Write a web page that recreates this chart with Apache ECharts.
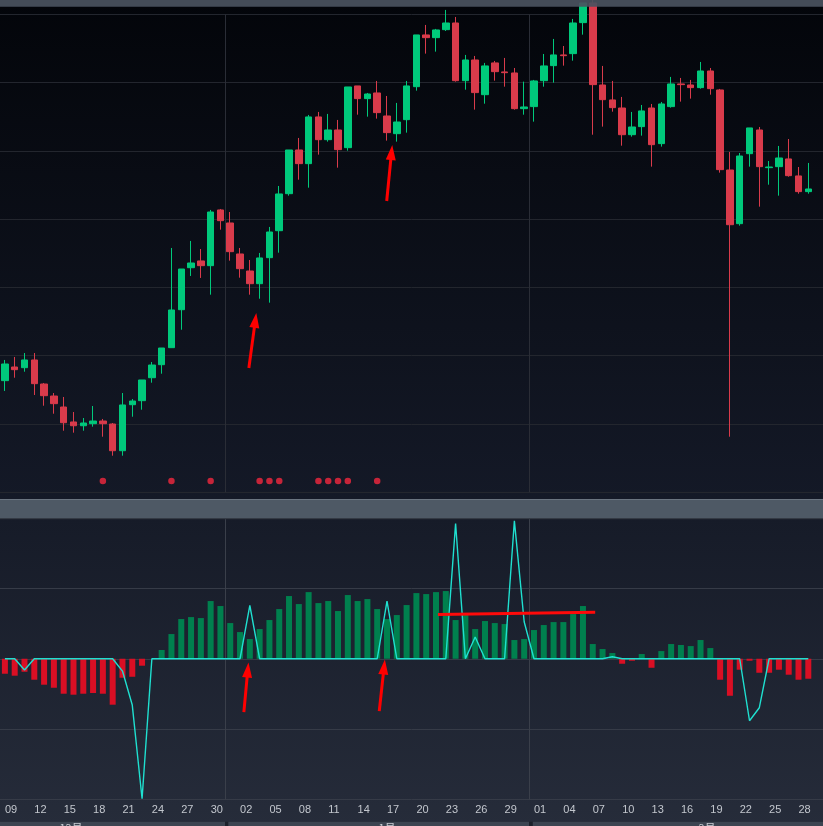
<!DOCTYPE html>
<html>
<head>
<meta charset="utf-8">
<script src="https://cdn.jsdelivr.net/npm/echarts@6/dist/echarts.min.js"></script>
<style>html,body{margin:0;padding:0;background:#0b0e16;}#c{width:823px;height:826px;}</style>
</head>
<body>
<div id="c"></div>
<script>
// ---- categories (daily, Dec 2023 - Feb 2024; last slot is the empty next day) ----
const dates = [
 '12-09','12-10','12-11','12-12','12-13','12-14','12-15','12-16','12-17','12-18','12-19','12-20','12-21','12-22','12-23','12-24','12-25','12-26','12-27','12-28','12-29','12-30','12-31',
 '01-01','01-02','01-03','01-04','01-05','01-06','01-07','01-08','01-09','01-10','01-11','01-12','01-13','01-14','01-15','01-16','01-17','01-18','01-19','01-20','01-21','01-22','01-23','01-24','01-25','01-26','01-27','01-28','01-29','01-30','01-31',
 '02-01','02-02','02-03','02-04','02-05','02-06','02-07','02-08','02-09','02-10','02-11','02-12','02-13','02-14','02-15','02-16','02-17','02-18','02-19','02-20','02-21','02-22','02-23','02-24','02-25','02-26','02-27','02-28','02-29',
 '03-01'
];
// ---- candles ----
const opens = [46.35,48.35,48.25,49.38,45.86,44.10,42.49,40.30,39.75,40.05,
 40.44,40.00,36.09,42.83,43.42,46.78,48.69,51.18,56.74,62.89,
 63.88,63.19,71.35,69.44,64.90,62.41,60.55,64.36,68.31,73.73,
 80.13,78.13,84.97,81.64,83.06,80.47,89.51,87.65,88.48,85.11,
 82.52,84.57,89.40,96.98,96.58,97.75,98.73,90.28,93.31,88.23,
 92.88,91.56,91.41,86.18,86.48,90.28,92.48,94.05,94.24,98.78,
 101.66,89.65,87.46,86.28,82.37,83.55,86.28,81.06,86.48,89.80,
 89.65,89.26,91.70,88.92,77.20,69.34,79.59,83.06,77.54,77.69,
 78.82,76.33,74.03];
const closes = [48.79,47.96,49.38,45.91,44.15,42.98,40.19,39.75,40.15,40.44,
 40.05,36.09,42.79,43.37,46.45,48.64,51.13,56.70,62.70,63.58,
 63.19,71.05,69.78,65.24,62.75,60.55,64.32,68.12,73.69,80.13,
 78.13,84.97,81.64,83.06,80.18,89.36,87.65,88.33,85.60,82.67,
 84.23,89.51,96.98,96.58,97.71,98.73,90.28,93.31,88.53,92.44,
 91.60,91.45,86.18,86.43,90.24,92.44,94.05,93.94,98.73,101.66,
 89.70,87.50,86.33,82.37,83.50,85.85,80.91,86.87,89.80,89.70,
 89.26,91.70,89.11,77.25,69.19,79.25,83.36,77.69,77.64,78.96,
 76.37,74.03,74.42];
const lows = [44.84,46.78,47.66,44.25,42.68,41.51,39.02,38.73,39.02,39.61,
 38.14,35.36,35.36,41.07,42.10,46.05,47.37,51.18,53.81,61.68,
 61.39,58.94,68.46,63.92,61.43,58.94,58.35,57.77,65.09,73.44,
 75.78,74.61,79.45,81.35,77.54,80.03,85.30,85.01,84.72,81.50,
 81.35,82.67,88.82,94.24,94.53,97.56,90.14,88.96,86.04,86.91,
 90.28,89.40,86.04,85.30,84.28,89.40,89.99,92.48,93.21,97.02,
 82.37,83.55,85.74,80.76,82.08,82.23,77.69,80.62,86.33,87.21,
 87.65,89.11,88.23,76.81,38.14,69.05,77.69,71.83,75.05,73.44,
 76.22,73.73,73.73];
const highs = [49.38,49.82,50.40,50.40,46.01,44.54,43.96,41.76,40.88,42.64,
 40.74,40.15,44.54,43.66,46.45,49.08,51.13,65.78,62.70,66.81,
 65.63,71.35,71.49,71.05,65.78,64.02,65.05,68.86,74.86,80.13,
 81.89,85.26,85.70,85.41,84.53,89.36,89.51,88.48,90.24,88.04,
 87.02,90.24,96.98,98.44,97.86,100.64,99.61,94.05,93.90,92.88,
 93.17,93.61,92.14,90.14,90.39,94.19,96.39,95.36,99.32,101.66,
 102.10,92.44,90.24,87.90,85.70,86.72,86.87,87.16,90.83,90.68,
 90.39,93.02,92.14,89.07,79.84,79.69,83.36,83.50,78.52,80.72,
 81.74,77.64,78.23];
// ---- signal dots (category indices) ----
const dotIdx = [10,17,21,26,27,28,32,33,34,35,38];
const dotLevel = 31.65;
// ---- lower panel ----
const histValues = [-0.213,-0.241,-0.185,-0.298,-0.369,-0.412,-0.497,-0.511,-0.497,-0.487,
 -0.497,-0.653,-0.270,-0.256,-0.099,0,0.124,0.351,0.564,0.592,
 0.578,0.820,0.749,0.507,0.379,0.280,0.422,0.550,0.706,0.891,
 0.777,0.947,0.791,0.820,0.678,0.905,0.820,0.848,0.706,0.564,
 0.621,0.763,0.933,0.919,0.947,0.962,0.550,0.621,0.422,0.536,
 0.507,0.493,0.266,0.280,0.408,0.479,0.521,0.521,0.635,0.749,
 0.209,0.138,0.081,-0.071,-0.028,0.067,-0.128,0.109,0.209,0.195,
 0.180,0.266,0.152,-0.298,-0.526,-0.156,-0.028,-0.199,-0.199,-0.156,
 -0.227,-0.298,-0.284];
const lineValues = [0,0,-0.161,0,0,0,0,0,0,0,
 0,0,-0.175,-0.658,-1.99,0,0,0,0,0,
 0,0,0,0,0,0.757,0,0,0,0,
 0,0,0,0,0,0,0,0,0,0.820,
 0,0,0,0,0,0,1.922,0,0.308,0,
 0,0,1.960,0.526,0,0,0,0,0,0,
 0,0,0.028,0,0,0,0,0,0,0,
 0,0,0,0,0,0,-0.881,-0.696,0,0,
 0,0,0];
// ---- hand-drawn annotations (data coordinates: [x index, value]) ----
const priceArrows = [[[24.90,48.20],[25.56,55.18]], [[38.97,72.66],[39.46,79.77]]];
const oscArrows = [[[24.39,-0.757],[24.79,-0.161]], [[38.21,-0.743],[38.70,-0.118]]];
const oscTrend = [[44.20,0.628],[60.25,0.659]];
const monthLabels = ['12月','1月','2月'];

const candleData = opens.map((o,i)=>[o, closes[i], lows[i], highs[i]]);
const nCat = dates.length;
const isMonthStart = (i, v) => i > 0 && i < nCat - 1 && String(v).endsWith('-01');
const band = 9.843;
const gridW = nCat * band;

const chart = echarts.init(document.getElementById('c'), null, {renderer:'canvas', width:823, height:826});
const LG = echarts.graphic.LinearGradient;
const font = "'Liberation Sans', Arial, sans-serif";

const option = {
  animation: false,
  backgroundColor: '#0b0e16',
  grid: [
    {left: 0, width: gridW, top: 14.3, height: 478},
    {left: 0, width: gridW, top: 518, height: 281.5}
  ],
  xAxis: [
    {type:'category', gridIndex:0, data:dates, boundaryGap:true,
     axisLine:{show:false}, axisTick:{show:false}, axisLabel:{show:false},
     splitLine:{show:true, interval:isMonthStart, lineStyle:{color:'#2a2d36', width:1}}},
    {type:'category', gridIndex:1, data:dates, boundaryGap:true,
     axisLine:{show:false}, axisTick:{show:false},
     axisLabel:{show:true, interval:(i)=> i%3===0 && i < nCat-1, align:'left', margin:5,
       color:'#c3c7ce', fontSize:11, fontFamily:font, formatter:(v)=>v.slice(3)},
     splitLine:{show:true, interval:isMonthStart, lineStyle:{color:'#3a3f4a', width:1}}},
    {type:'value', gridIndex:0, min:-0.5, max:nCat-0.5, show:false},
    {type:'value', gridIndex:1, min:-0.5, max:nCat-0.5, show:false}
  ],
  yAxis: [
    {type:'value', gridIndex:0, min:30, max:100, interval:10, position:'left',
     axisLine:{show:false}, axisTick:{show:false}, axisLabel:{show:false},
     splitLine:{show:true, lineStyle:{color:'#23262e', width:1}}},
    {type:'value', gridIndex:1, min:-2, max:2, interval:1, position:'left',
     axisLine:{show:false}, axisTick:{show:false}, axisLabel:{show:false},
     splitLine:{show:true, lineStyle:{color:'#363b47', width:1}}}
  ],
  graphic: [
    {type:'rect', z:-100, silent:true, shape:{x:0,y:0,width:823,height:500},
     style:{fill:new LG(0,0,0,1,[{offset:0,color:'#03050a'},{offset:1,color:'#141927'}])}},
    {type:'rect', z:-100, silent:true, shape:{x:0,y:519,width:823,height:307},
     style:{fill:new LG(0,0,0,1,[{offset:0,color:'#161b28'},{offset:1,color:'#262c3a'}])}},
    {type:'rect', z:100, silent:true, shape:{x:0,y:0,width:823,height:6.7}, style:{fill:'#4a5360', opacity:0.92}},
    {type:'rect', z:100, silent:true, shape:{x:0,y:499,width:823,height:20}, style:{fill:'#4e5965'}},
    {type:'rect', z:101, silent:true, shape:{x:0,y:499,width:823,height:1}, style:{fill:'#6a7480'}},
    {type:'rect', z:101, silent:true, shape:{x:0,y:518.3,width:823,height:1}, style:{fill:'#2c313a'}},
    {type:'rect', z:100, silent:true, shape:{x:0,y:821.7,width:823,height:5}, style:{fill:'#1c212b'}},
    {type:'rect', z:101, silent:true, shape:{x:0,y:821.7,width:225,height:5}, style:{fill:'#3c4451'}},
    {type:'rect', z:101, silent:true, shape:{x:228.3,y:821.7,width:300.7,height:5}, style:{fill:'#3c4451'}},
    {type:'rect', z:101, silent:true, shape:{x:532.8,y:821.7,width:291,height:5}, style:{fill:'#3c4451'}},
    {type:'text', z:102, silent:true, x:71, y:822.3, style:{text:monthLabels[0], fill:'#c8ccd2', fontSize:11, fontFamily:"'Noto Sans CJK SC', sans-serif", align:'center', verticalAlign:'top'}},
    {type:'text', z:102, silent:true, x:387, y:822.3, style:{text:monthLabels[1], fill:'#c8ccd2', fontSize:11, fontFamily:"'Noto Sans CJK SC', sans-serif", align:'center', verticalAlign:'top'}},
    {type:'text', z:102, silent:true, x:707, y:822.3, style:{text:monthLabels[2], fill:'#c8ccd2', fontSize:11, fontFamily:"'Noto Sans CJK SC', sans-serif", align:'center', verticalAlign:'top'}}
  ],
  series: [
    {type:'candlestick', xAxisIndex:0, yAxisIndex:0, data:candleData, barWidth:7, clip:false,
     itemStyle:{color:'#00c97b', color0:'#d93b4b', borderColor:'#00c97b', borderColor0:'#d93b4b', borderWidth:1}},
    {type:'scatter', xAxisIndex:0, yAxisIndex:0, data:dotIdx.map(i=>[i, dotLevel]), symbolSize:6.5,
     itemStyle:{color:'#f4283e'}, z:3},
    {type:'bar', xAxisIndex:1, yAxisIndex:1, data:histValues, barWidth:6,
     itemStyle:{color:(p)=> p.value >= 0 ? '#00804e' : '#d90f24'}},
    {type:'line', xAxisIndex:1, yAxisIndex:1, data:lineValues, symbol:'none', z:4,
     lineStyle:{color:'#1fe0d0', width:1.4}},
    {type:'line', xAxisIndex:2, yAxisIndex:0, data:[[-5,-5]], symbol:'none', lineStyle:{width:0}, z:10,
     markLine:{silent:true, animation:false, symbol:['none','triangle'], symbolSize:[10,15],
       label:{show:false}, lineStyle:{color:'#ff0000', width:3, type:'solid'},
       data: priceArrows.map(a=>[{coord:a[0]},{coord:a[1]}])}},
    {type:'line', xAxisIndex:3, yAxisIndex:1, data:[[-5,-5]], symbol:'none', lineStyle:{width:0}, z:10,
     markLine:{silent:true, animation:false, symbol:['none','triangle'], symbolSize:[10,15],
       label:{show:false}, lineStyle:{color:'#ff0000', width:3, type:'solid'},
       data: oscArrows.map(a=>[{coord:a[0]},{coord:a[1]}])}},
    {type:'line', xAxisIndex:3, yAxisIndex:1, data:[[-5,-5]], symbol:'none', lineStyle:{width:0}, z:10,
     markLine:{silent:true, animation:false, symbol:['none','none'],
       label:{show:false}, lineStyle:{color:'#ff0a0a', width:3, type:'solid'},
       data: [[{coord:oscTrend[0]},{coord:oscTrend[1]}]]}}
  ]
};
chart.setOption(option);
</script>
</body>
</html>
